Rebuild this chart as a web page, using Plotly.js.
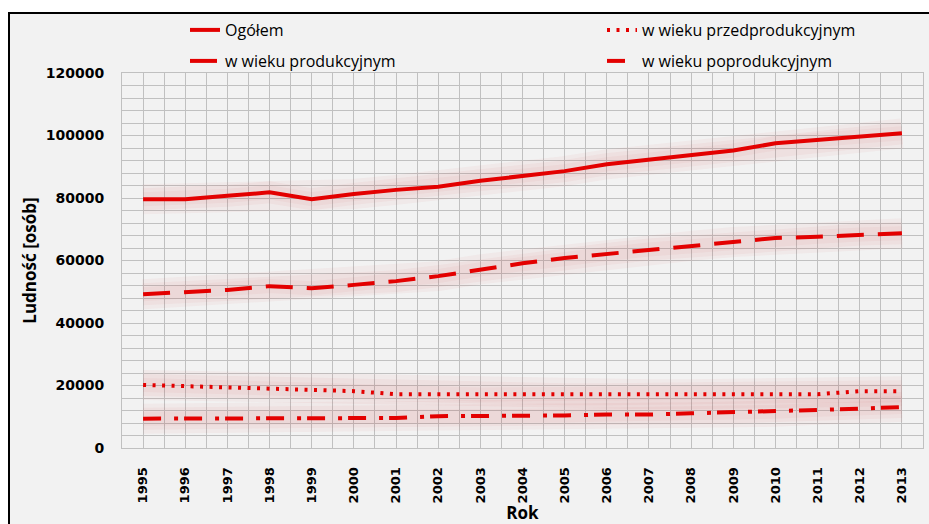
<!DOCTYPE html>
<html>
<head>
<meta charset="utf-8">
<script src="https://cdn.plot.ly/plotly-3.0.1.min.js"></script>
<style>
html,body{margin:0;padding:0;background:#ffffff;width:929px;height:524px;overflow:hidden;}
#frame{position:absolute;left:8px;top:12px;width:940px;height:540px;background:#f2f2f2;border-left:2px solid #000;border-top:2px solid #000;}
#chart{position:absolute;left:0;top:0;width:929px;height:524px;}
</style>
</head>
<body>
<div id="frame"></div>
<div id="chart"></div>
<script>
const years = [1995,1996,1997,1998,1999,2000,2001,2002,2003,2004,2005,2006,2007,2008,2009,2010,2011,2012,2013];
const yearLabels = years.map(String);
const ogolem = [79600,79600,80700,81800,79600,81300,82600,83600,85500,86900,88600,90800,92200,93500,95200,97500,98600,99600,100700];
const przedprodukcyjny = [20200,19800,19400,19000,18600,18200,17200,17100,17100,17200,17200,17200,17200,17200,17200,17200,17200,18200,18200];
const produkcyjny = [49200,49900,50600,51800,51100,52200,53400,55000,57200,59100,60800,62100,63500,64700,65900,67200,67600,68300,68700];
const poprodukcyjny = [9400,9400,9400,9400,9400,9400,9600,10200,10200,10200,10400,10700,10700,11100,11400,11600,12200,12600,13100];

const seriesNames = ["Ogółem","w wieku przedprodukcyjnym","w wieku produkcyjnym","w wieku poprodukcyjnym"];
const seriesData = [ogolem, przedprodukcyjny, produkcyjny, poprodukcyjny];
const dashes = ["solid","3px,6.5px","27px,14px","18px,13px,4px,6px"];
const legends = ["legend","legend2","legend3","legend4"];
const RED = "#e30000";

const traces = [];
// soft glow underlays
[30, 22, 14].forEach(w => {
  seriesData.forEach(d => {
    traces.push({x: years, y: d, mode: "lines", showlegend: false, hoverinfo: "skip",
      line: {color: "rgba(215,50,50,0.045)", width: w}});
  });
});
seriesData.forEach((d, i) => {
  traces.push({x: years, y: d, mode: "lines", name: seriesNames[i], legend: legends[i],
    line: {color: RED, width: 4, dash: dashes[i]}});
});

const gridCol = "#c0c0c0";
function leg(xPix, yPix) {
  return {
    orientation: "h", xref: "container", yref: "container",
    x: xPix/929, y: 1 - yPix/524, xanchor: "left", yanchor: "middle",
    bgcolor: "rgba(0,0,0,0)", borderwidth: 0,
    font: {family: "Open Sans", size: 16, color: "#000"}
  };
}
const layout = {
  width: 929, height: 524,
  margin: {l: 122, r: 6, t: 73, b: 76, autoexpand: false},
  paper_bgcolor: "rgba(0,0,0,0)",
  plot_bgcolor: "#f2f2f2",
  font: {family: "DejaVu Sans, sans-serif", color: "#000"},
  xaxis: {
    range: [1994.5, 2013.5],
    tickmode: "array", tickvals: years, ticktext: yearLabels,
    tickangle: -90,
    tickfont: {family: "DejaVu Sans", size: 13, weight: "bold", color: "#000"},
    ticks: "", ticklabelstandoff: 13,
    showgrid: true, gridcolor: gridCol, gridwidth: 1,
    minor: {tick0: 1994.5, dtick: 1, showgrid: true, gridcolor: gridCol, gridwidth: 1},
    showline: true, linecolor: gridCol, linewidth: 1, mirror: true,
    zeroline: false, fixedrange: true,
    title: {text: "Rok", font: {family: "Open Sans", size: 17, weight: "bold", color: "#000"}, standoff: 8}
  },
  yaxis: {
    range: [0, 120000], dtick: 20000, tick0: 0,
    tickformat: "d",
    tickfont: {family: "DejaVu Sans", size: 14, weight: "bold", color: "#000"},
    ticks: "", ticklabelstandoff: 14,
    showgrid: true, gridcolor: gridCol, gridwidth: 1,
    minor: {dtick: 4000, showgrid: true, gridcolor: gridCol, gridwidth: 1},
    showline: true, linecolor: gridCol, linewidth: 1, mirror: true,
    zeroline: false, fixedrange: true,
    title: {text: "Ludność [osób]", font: {family: "Open Sans", size: 17, weight: "bold", color: "#000"}, standoff: 4}
  },
  legend: leg(185, 30),
  legend2: leg(602, 30),
  legend3: leg(185, 61),
  legend4: leg(602, 61),
  showlegend: true
};

Plotly.newPlot("chart", traces, layout, {displayModeBar: false, staticPlot: true});
</script>
</body>
</html>
